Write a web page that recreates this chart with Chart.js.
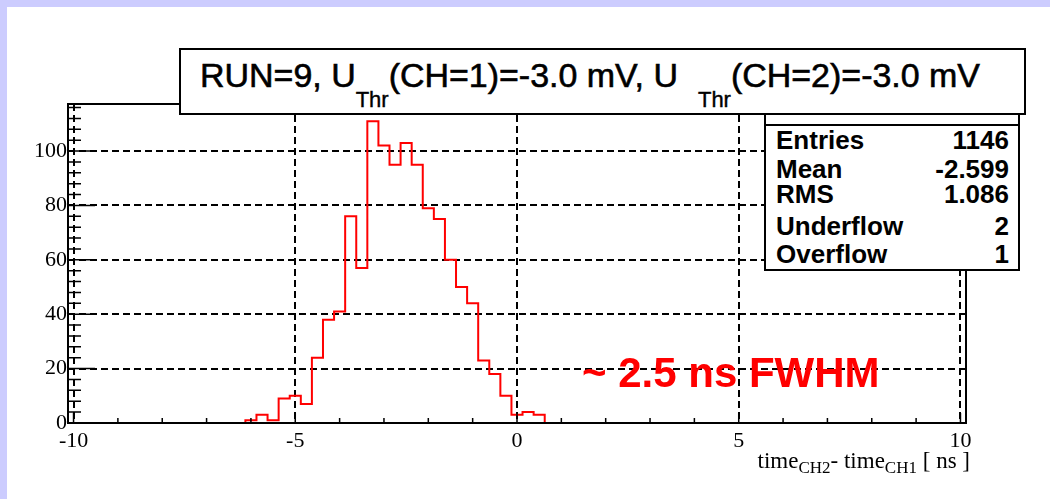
<!DOCTYPE html>
<html>
<head>
<meta charset="utf-8">
<script src="https://cdn.jsdelivr.net/npm/chart.js@4.4.0/dist/chart.umd.min.js"></script>
<style>
html,body{margin:0;padding:0;}
body{width:1050px;height:499px;background:#ccccfe;position:relative;overflow:hidden;font-family:"Liberation Sans",Arial,sans-serif;}
#paper{position:absolute;left:7px;top:7px;right:0;bottom:0;background:#fff;}
#chart{position:absolute;left:0;top:0;}
#titleBox{position:absolute;left:179px;top:48px;width:847px;height:67px;box-sizing:border-box;border:2px solid #000;background:#fff;}
#titleText{position:absolute;left:19px;top:8px;font-size:34px;line-height:34px;white-space:nowrap;transform-origin:0 0;color:#000;-webkit-text-stroke:0.6px #000;}
#titleText sub{font-size:22px;vertical-align:-20px;line-height:0;-webkit-text-stroke:0.4px #000;}
.gap{display:inline-block;width:20px;}
#statBox{position:absolute;left:764px;top:113px;width:256px;height:158px;box-sizing:border-box;border:2px solid #000;background:#fff;}
#statHead{position:absolute;left:0;right:0;top:0;height:9px;border-bottom:2px solid #000;}
.row{position:absolute;left:10px;right:9px;font-size:26px;line-height:26px;font-weight:bold;color:#000;white-space:nowrap;}
.row span{position:absolute;right:0;}
#xTitle{position:absolute;right:80px;top:449px;font-family:"Liberation Serif","Times New Roman",serif;font-size:23px;line-height:23px;white-space:nowrap;color:#000;}
#xTitle sub{font-size:17px;vertical-align:-5px;line-height:0;}
#fwhm{position:absolute;left:582px;top:352px;font-size:42px;line-height:42px;font-weight:bold;color:#ff0000;white-space:nowrap;}
</style>
</head>
<body>
<div id="paper"></div>
<canvas id="chart" width="1050" height="499"></canvas>
<div id="titleBox"><div id="titleText">RUN=9, U<sub>Thr</sub>(CH=1)=-3.0 mV, U<span class="gap"></span><sub>Thr</sub>(CH=2)=-3.0 mV</div></div>
<div id="statBox">
  <div id="statHead"></div>
  <div class="row" style="top:12px">Entries<span>1146</span></div>
  <div class="row" style="top:41px">Mean<span>-2.599</span></div>
  <div class="row" style="top:66px">RMS<span>1.086</span></div>
  <div class="row" style="top:98px">Underflow<span>2</span></div>
  <div class="row" style="top:126px">Overflow<span>1</span></div>
</div>
<div id="xTitle">time<sub>CH2</sub>- time<sub>CH1</sub> [ ns ]</div>
<div id="fwhm">~ 2.5 ns FWHM</div>
<script>
// histogram: bin centres [ns] and contents, bin width 0.25 ns
const binWidth = 0.25;
const binCenters = [-6, -5.75, -5.5, -5.25, -5, -4.75, -4.5, -4.25, -4, -3.75, -3.5, -3.25, -3, -2.75,
                    -2.5, -2.25, -2, -1.75, -1.5, -1.25, -1, -0.75, -0.5, -0.25, 0, 0.25, 0.5];
const counts = [1, 3, 1, 9, 10, 7, 24, 38, 41, 76, 57, 111, 102, 95,
                103, 95, 79, 75, 60, 50, 44, 23, 18, 10, 3, 4, 3];

// axes
const xRange = [-10.125, 10.125];
const yRange = [0, 117.3];
const xTickLabels = [-10, -5, 0, 5, 10];
const yTickLabels = [0, 20, 40, 60, 80, 100];
const xMinorStep = 1;
const yMinorStep = 4;

window.onload = function() {
    // title is narrow Helvetica in the original, squeeze to fit
    const tt = document.getElementById("titleText");
    tt.style.transform = "scaleX(" + (780 / tt.offsetWidth) + ")";

    // step outline built from the bins
    const histPoints = [{x: binCenters[0] - binWidth / 2, y: 0}];
    binCenters.forEach((c, i) => histPoints.push({x: c - binWidth / 2, y: counts[i]}));
    histPoints.push({x: binCenters[binCenters.length - 1] + binWidth / 2, y: 0});

    // frame + inside ticks like ROOT
    const frameTicks = {
        id: 'frameTicks',
        afterDatasetsDraw(chart) {
            const {ctx, chartArea: a, scales: {x, y}} = chart;
            ctx.save();
            ctx.strokeStyle = '#000';
            ctx.lineWidth = 1.5;
            ctx.beginPath();
            for (let v = xTickLabels[0]; v <= xTickLabels[xTickLabels.length - 1]; v += xMinorStep) {
                const px = x.getPixelForValue(v);
                const len = (v % 5 === 0) ? 10 : 5;
                ctx.moveTo(px, a.bottom);
                ctx.lineTo(px, a.bottom - len);
            }
            for (let v = 0; v < yRange[1]; v += yMinorStep) {
                const py = y.getPixelForValue(v);
                const len = (v % 20 === 0) ? 27 : 13;
                ctx.moveTo(a.left, py);
                ctx.lineTo(a.left + len, py);
            }
            ctx.stroke();
            ctx.lineWidth = 2;
            ctx.strokeRect(a.left, a.top, a.width, a.height);
            ctx.restore();
        }
    };

    const serif = {family: '"Liberation Serif", "Times New Roman", serif', size: 22};

    new Chart(document.getElementById("chart").getContext("2d"), {
        type: 'line',
        data: {
            datasets: [{
                data: histPoints,
                stepped: 'before',
                borderColor: '#ff0000',
                borderWidth: 2,
                pointRadius: 0,
                fill: false
            }]
        },
        options: {
            responsive: false,
            animation: false,
            devicePixelRatio: 1,
            layout: { padding: { left: 8, right: 84, top: 104, bottom: 36 } },
            plugins: { legend: { display: false }, tooltip: { enabled: false } },
            scales: {
                x: {
                    type: 'linear',
                    min: xRange[0], max: xRange[1],
                    afterBuildTicks: s => { s.ticks = xTickLabels.map(v => ({value: v})); },
                    afterFit: s => { s.height = 40; },
                    ticks: { font: serif, color: '#000', padding: 5, maxRotation: 0, autoSkip: false,
                             callback: v => String(v) },
                    grid: { color: '#000', lineWidth: 2, drawTicks: false },
                    border: { display: false, dash: [7, 4] }
                },
                y: {
                    min: yRange[0], max: yRange[1],
                    afterBuildTicks: s => { s.ticks = yTickLabels.map(v => ({value: v})); },
                    afterFit: s => { s.width = 60; },
                    ticks: { font: serif, color: '#000', padding: 1, callback: v => String(v) },
                    grid: { color: '#000', lineWidth: 2, drawTicks: false },
                    border: { display: false, dash: [7, 4] }
                }
            }
        },
        plugins: [frameTicks]
    });
};
</script>
</body>
</html>
